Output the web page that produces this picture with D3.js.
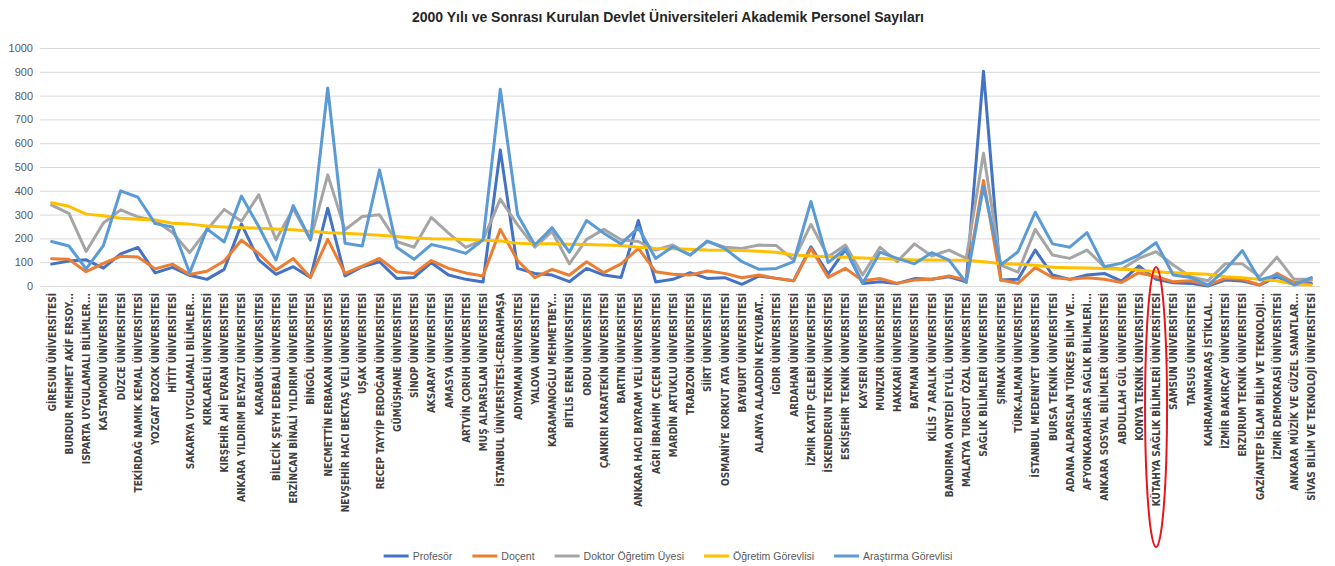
<!DOCTYPE html>
<html>
<head>
<meta charset="utf-8">
<script src="https://cdn.jsdelivr.net/npm/d3@7"></script>
<style>
  body { margin: 0; background: #fff; }
  svg { display: block; }
</style>
</head>
<body>
<div id="chart"></div>
<script>
// categories, left to right
const universities = [
  "GİRESUN ÜNİVERSİTESİ", "BURDUR MEHMET AKİF ERSOY...", "ISPARTA UYGULAMALI BİLİMLER...",
  "KASTAMONU ÜNİVERSİTESİ", "DÜZCE ÜNİVERSİTESİ", "TEKİRDAĞ NAMIK KEMAL ÜNİVERSİTESİ",
  "YOZGAT BOZOK ÜNİVERSİTESİ", "HİTİT ÜNİVERSİTESİ", "SAKARYA UYGULAMALI BİLİMLER...",
  "KIRKLARELİ ÜNİVERSİTESİ", "KIRŞEHİR AHİ EVRAN ÜNİVERSİTESİ", "ANKARA YILDIRIM BEYAZIT ÜNİVERSİTESİ",
  "KARABÜK ÜNİVERSİTESİ", "BİLECİK ŞEYH EDEBALİ ÜNİVERSİTESİ", "ERZİNCAN BİNALİ YILDIRIM ÜNİVERSİTESİ",
  "BİNGÖL ÜNİVERSİTESİ", "NECMETTİN ERBAKAN ÜNİVERSİTESİ", "NEVŞEHİR HACI BEKTAŞ VELİ ÜNİVERSİTESİ",
  "UŞAK ÜNİVERSİTESİ", "RECEP TAYYİP ERDOĞAN ÜNİVERSİTESİ", "GÜMÜŞHANE ÜNİVERSİTESİ",
  "SİNOP ÜNİVERSİTESİ", "AKSARAY ÜNİVERSİTESİ", "AMASYA ÜNİVERSİTESİ",
  "ARTVİN ÇORUH ÜNİVERSİTESİ", "MUŞ ALPARSLAN ÜNİVERSİTESİ", "İSTANBUL ÜNİVERSİTESİ-CERRAHPAŞA",
  "ADIYAMAN ÜNİVERSİTESİ", "YALOVA ÜNİVERSİTESİ", "KARAMANOĞLU MEHMETBEY...",
  "BİTLİS EREN ÜNİVERSİTESİ", "ORDU ÜNİVERSİTESİ", "ÇANKIRI KARATEKİN ÜNİVERSİTESİ",
  "BARTIN ÜNİVERSİTESİ", "ANKARA HACI BAYRAM VELİ ÜNİVERSİTESİ", "AĞRI İBRAHİM ÇEÇEN ÜNİVERSİTESİ",
  "MARDİN ARTUKLU ÜNİVERSİTESİ", "TRABZON ÜNİVERSİTESİ", "SİİRT ÜNİVERSİTESİ",
  "OSMANİYE KORKUT ATA ÜNİVERSİTESİ", "BAYBURT ÜNİVERSİTESİ", "ALANYA ALAADDİN KEYKUBAT...",
  "IĞDIR ÜNİVERSİTESİ", "ARDAHAN ÜNİVERSİTESİ", "İZMİR KATİP ÇELEBİ ÜNİVERSİTESİ",
  "İSKENDERUN TEKNİK ÜNİVERSİTESİ", "ESKİŞEHİR TEKNİK ÜNİVERSİTESİ", "KAYSERİ ÜNİVERSİTESİ",
  "MUNZUR ÜNİVERSİTESİ", "HAKKARİ ÜNİVERSİTESİ", "BATMAN ÜNİVERSİTESİ",
  "KİLİS 7 ARALIK ÜNİVERSİTESİ", "BANDIRMA ONYEDİ EYLÜL ÜNİVERSİTESİ", "MALATYA TURGUT ÖZAL ÜNİVERSİTESİ",
  "SAĞLIK BİLİMLERİ ÜNİVERSİTESİ", "ŞIRNAK ÜNİVERSİTESİ", "TÜRK-ALMAN ÜNİVERSİTESİ",
  "İSTANBUL MEDENİYET ÜNİVERSİTESİ", "BURSA TEKNİK ÜNİVERSİTESİ", "ADANA ALPARSLAN TÜRKEŞ BİLİM VE...",
  "AFYONKARAHİSAR SAĞLIK BİLİMLERİ...", "ANKARA SOSYAL BİLİMLER ÜNİVERSİTESİ", "ABDULLAH GÜL ÜNİVERSİTESİ",
  "KONYA TEKNİK ÜNİVERSİTESİ", "KÜTAHYA SAĞLIK BİLİMLERİ ÜNİVERSİTESİ", "SAMSUN ÜNİVERSİTESİ",
  "TARSUS ÜNİVERSİTESİ", "KAHRAMANMARAŞ İSTİKLAL...", "İZMİR BAKIRÇAY ÜNİVERSİTESİ",
  "ERZURUM TEKNİK ÜNİVERSİTESİ", "GAZİANTEP İSLAM BİLİM VE TEKNOLOJİ...", "İZMİR DEMOKRASİ ÜNİVERSİTESİ",
  "ANKARA MÜZİK VE GÜZEL SANATLAR...", "SİVAS BİLİM VE TEKNOLOJİ ÜNİVERSİTESİ"
];

// series values
const profesor = [
  92, 105, 110, 75, 135, 162, 55, 78, 45, 28, 70, 260,
  110, 49, 81, 36, 327, 42, 81, 102, 32, 36, 98, 46, 28,
  17, 572, 74, 53, 46, 18, 74, 46, 36, 275, 17, 28,
  56, 32, 35, 7, 42, 32, 22, 165, 50, 154, 11, 18, 11,
  31, 28, 39, 18, 902, 25, 28, 151, 46, 28, 46, 53, 20,
  84, 28, 14, 11, 0, 25, 21, 4, 39, 7, 11
];
const docent = [
  115, 112, 60, 95, 125, 122, 72, 92, 48, 62, 105, 192,
  137, 67, 116, 36, 196, 53, 84, 116, 60, 53, 107, 74, 55,
  42, 238, 107, 35, 70, 45, 102, 56, 93, 158, 60, 49,
  46, 63, 53, 35, 46, 32, 22, 158, 36, 74, 22, 32, 11,
  25, 28, 42, 25, 443, 25, 11, 77, 36, 28, 35, 28, 15,
  56, 39, 18, 22, 4, 32, 28, 4, 53, 14, 25
];
const doktor = [
  340, 305, 145, 265, 320, 290, 275, 225, 140, 235, 322, 272,
  383, 194, 325, 194, 467, 236, 292, 299, 187, 163, 288, 222, 162,
  194, 365, 257, 163, 229, 93, 196, 238, 194, 187, 151, 172,
  130, 187, 163, 158, 172, 170, 109, 259, 123, 172, 46, 163, 102,
  177, 126, 151, 116, 558, 88, 58, 238, 130, 116, 151, 81, 70,
  116, 144, 88, 39, 22, 93, 93, 39, 121, 28, 28
];
const ogretimGorevlisi = [
  350, 335, 302, 295, 285, 280, 277, 264, 260, 252, 248, 245,
  243, 240, 236, 230, 224, 222, 217, 213, 208, 202, 199, 198, 195,
  192, 189, 180, 177, 177, 175, 174, 172, 170, 163, 158, 156,
  154, 151, 150, 149, 146, 142, 130, 126, 123, 121, 118, 116, 112,
  109, 109, 108, 108, 102, 95, 91, 87, 79, 77, 76, 74, 70,
  67, 60, 56, 53, 49, 39, 35, 28, 22, 7, 4
];
const arastirmaGorevlisi = [
  187, 168, 72, 170, 400, 373, 262, 248, 55, 240, 185, 378,
  250, 109, 338, 194, 832, 180, 168, 488, 163, 112, 174, 158, 137,
  194, 827, 299, 172, 245, 142, 275, 222, 177, 245, 116, 165,
  130, 189, 158, 102, 70, 74, 102, 355, 98, 158, 11, 142, 116,
  93, 140, 109, 14, 418, 88, 144, 310, 177, 163, 224, 81, 96,
  130, 182, 46, 36, 4, 67, 149, 25, 46, 4, 35
];

const seriesNames = ["Profesör", "Doçent", "Doktor Öğretim Üyesi", "Öğretim Görevlisi", "Araştırma Görevlisi"];
const seriesValues = [profesor, docent, doktor, ogretimGorevlisi, arastirmaGorevlisi];
const seriesColors = ["#4472C4", "#ED7D31", "#A5A5A5", "#FFC000", "#5B9BD5"];
const yTicks = [0, 100, 200, 300, 400, 500, 600, 700, 800, 900, 1000];
const highlighted = "KÜTAHYA SAĞLIK BİLİMLERİ ÜNİVERSİTESİ";

const width = 1335;
const height = 566;
const margin = { top: 48, right: 15, bottom: 280, left: 43 };

const svg = d3
  .select("#chart")
  .append("svg")
  .attr("width", width)
  .attr("height", height);

const x = d3
  .scalePoint()
  .domain(universities)
  .range([margin.left, width - margin.right])
  .padding(0.5);

const y = d3
  .scaleLinear()
  .domain([0, 1000])
  .range([height - margin.bottom, margin.top]);

// title
svg
  .append("text")
  .attr("x", 668)
  .attr("y", 22)
  .attr("text-anchor", "middle")
  .style("font-family", "'Liberation Sans', Arial, sans-serif")
  .style("font-weight", "bold")
  .style("font-size", "14px")
  .style("fill", "#262626")
  .text("2000 Yılı ve Sonrası Kurulan Devlet Üniversiteleri Akademik Personel Sayıları");

// gridlines + y labels
const yAxis = svg
  .append("g")
  .attr("transform", `translate(${margin.left - 3},0)`)
  .call(
    d3
      .axisLeft(y)
      .tickValues(yTicks)
      .tickFormat(d3.format("d"))
      .tickSize(-(width - margin.left - margin.right + 3))
      .tickPadding(7)
  );

yAxis.select(".domain").remove();
yAxis.selectAll(".tick line").attr("stroke", "#d9d9d9").attr("stroke-width", 1);
yAxis
  .selectAll(".tick text")
  .style("font-family", "'Liberation Sans', Arial, sans-serif")
  .style("font-size", "11px")
  .style("fill", "#595959");

// x labels, rotated
const xAxis = svg
  .append("g")
  .attr("transform", `translate(0,${y(0)})`)
  .call(d3.axisBottom(x).tickSize(0).tickPadding(0));

xAxis.select(".domain").remove();
xAxis
  .selectAll(".tick text")
  .attr("transform", "rotate(-90)")
  .attr("text-anchor", "end")
  .attr("x", -7)
  .attr("y", 0)
  .attr("dy", "0.35em")
  .style("font-family", "'Liberation Sans Narrow', 'DejaVu Sans Condensed', Arial, sans-serif")
  .style("font-weight", "bold")
  .style("font-size", "10px")
  .style("fill", "#404040");

// lines
const line = d3
  .line()
  .x((d, i) => x(universities[i]))
  .y((d) => y(d));

seriesValues.forEach((vals, k) => {
  svg
    .append("path")
    .datum(vals)
    .attr("fill", "none")
    .attr("stroke", seriesColors[k])
    .attr("stroke-width", 3)
    .attr("stroke-linejoin", "round")
    .attr("stroke-linecap", "round")
    .attr("d", line);
});

// red ellipse round the highlighted label
svg
  .append("ellipse")
  .attr("cx", x(highlighted))
  .attr("cy", 407)
  .attr("rx", 11)
  .attr("ry", 140)
  .attr("fill", "none")
  .attr("stroke", "#e8151b")
  .attr("stroke-width", 2);

// legend
const legend = svg.append("g");
let lx = 0;
seriesNames.forEach((name, k) => {
  const g = legend.append("g").attr("transform", `translate(${lx},0)`);
  g.append("line")
    .attr("x1", 0)
    .attr("x2", 25)
    .attr("y1", 0)
    .attr("y2", 0)
    .attr("stroke", seriesColors[k])
    .attr("stroke-width", 3);
  const t = g
    .append("text")
    .attr("x", 29)
    .attr("y", 4)
    .style("font-family", "'Liberation Sans', Arial, sans-serif")
    .style("font-size", "10.5px")
    .style("fill", "#595959")
    .text(name);
  lx += 29 + t.node().getComputedTextLength() + 20;
});
legend.attr("transform", `translate(${668 - (lx - 20) / 2},${height - 10})`);
</script>
</body>
</html>
